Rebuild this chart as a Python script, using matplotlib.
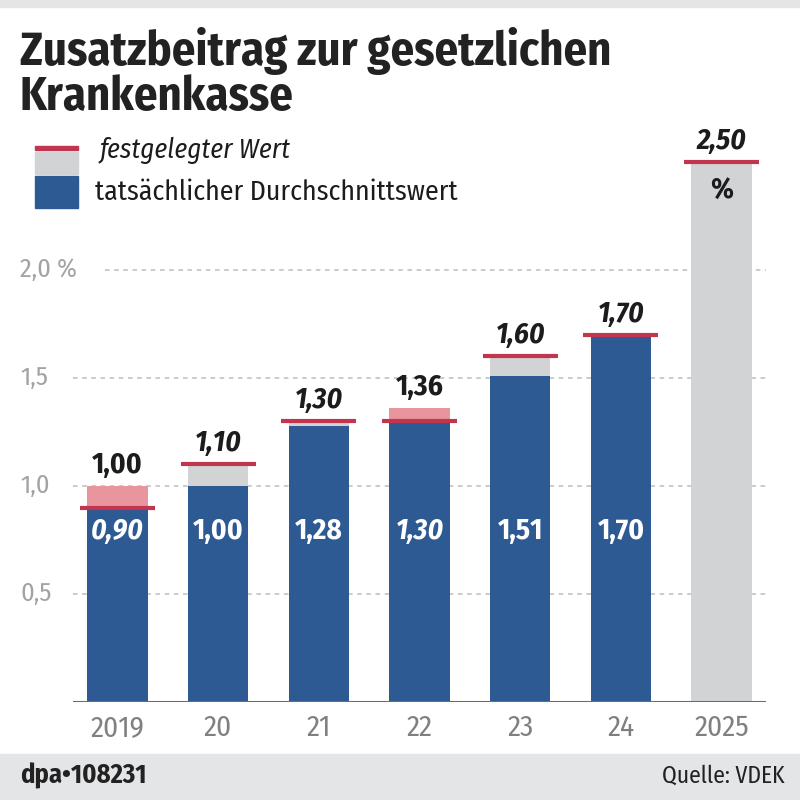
import matplotlib
matplotlib.use('Agg')
import matplotlib.pyplot as plt
from matplotlib import font_manager
from matplotlib.patches import Rectangle
from matplotlib.transforms import blended_transform_factory

# data
years = ['2019', '20', '21', '22', '23', '24', '2025']
fixed = [0.90, 1.10, 1.30, 1.30, 1.60, 1.70, 2.50]      # festgelegter Wert
actual = [1.00, 1.00, 1.28, 1.36, 1.51, 1.70, None]     # tatsaechlicher Durchschnittswert
yticks = [0.5, 1.0, 1.5, 2.0]
ytick_labels = ['0,5', '1,0', '1,5', '2,0 %']

BLUE = '#2e5a94'
GRAY = '#d2d3d5'
PINK = '#e8959d'
RED = '#c1354f'
DARK = '#1c1c1c'

names = set(f.name for f in font_manager.fontManager.ttflist)
family = 'Liberation Sans'
for want in ['Fira Sans Condensed', 'Asap Condensed', 'Barlow Semi Condensed']:
    if want in names:
        family = want
        break
plt.rcParams['font.family'] = [family, 'DejaVu Sans']


def fmt(v):
    return ('%.2f' % v).replace('.', ',')


fig = plt.figure(figsize=(8, 8), dpi=100)
fig.patch.set_facecolor('white')

# top strip and footer
fig.add_artist(Rectangle((0, 1 - 7 / 800), 1, 7 / 800, transform=fig.transFigure,
                         color='#e3e5e7', zorder=0))
fig.add_artist(Rectangle((0, 0), 1, 46 / 800, transform=fig.transFigure,
                         color='#e3e5e7', zorder=0))

ax = fig.add_axes([73 / 800, 98 / 800, 693 / 800, 0.702])
ax.set_xlim(-0.44, 6.44)
ax.set_ylim(0, 2.6)
for s in ax.spines.values():
    s.set_visible(False)
ax.set_xticks([])
ax.set_yticks([])

# grid
for t in yticks:
    xmin = 0.046 if t == 2.0 else 0.0
    ax.axhline(t, xmin=xmin, xmax=1, color='#bdbdbd', lw=1.1,
               linestyle=(0, (3, 3)), zorder=0)

trans = blended_transform_factory(fig.transFigure, ax.transData)
for t, lab in zip(yticks, ytick_labels):
    ax.text(20 / 800, t, lab, transform=trans, ha='left', va='center',
            fontsize=19, color='#a3a3a3')

w = 0.6
for i, (f, a) in enumerate(zip(fixed, actual)):
    if a is None:
        ax.bar(i, f, width=w, color=GRAY, zorder=2)
    else:
        low = min(f, a)
        ax.bar(i, low, width=w, color=BLUE, zorder=2)
        if f > a:
            ax.bar(i, f - a, bottom=a, width=w, color=GRAY, zorder=2)
        elif a > f:
            ax.bar(i, a - f, bottom=f, width=w, color=PINK, zorder=2)
    ax.hlines(f, i - 0.372, i + 0.372, color=RED, lw=3.0, zorder=3)

    top = f if a is None else max(f, a)
    if a is None or f >= a:
        ax.text(i, top + 0.03, fmt(f), ha='center', va='bottom', fontsize=21,
                fontweight='bold', style='italic', color=DARK, zorder=4)
    else:
        ax.text(i, top + 0.03, fmt(a), ha='center', va='bottom', fontsize=21,
                fontweight='bold', color=DARK, zorder=4)

    if a is None:
        ax.text(i, f - 0.13, '%', ha='center', va='center', fontsize=21,
                fontweight='bold', color=DARK, zorder=4)
    elif f >= a:
        ax.text(i, 0.79, fmt(a), ha='center', va='center', fontsize=21,
                fontweight='bold', color='white', zorder=4)
    else:
        ax.text(i, 0.79, fmt(f), ha='center', va='center', fontsize=21,
                fontweight='bold', style='italic', color='white', zorder=4)

    ax.text(i, -0.12, years[i], ha='center', va='center', fontsize=21,
            color='#808080')

ax.axhline(0, color='#6b6b6b', lw=2.2, zorder=5)

# title
fig.text(20 / 800, 1 - 52 / 800, 'Zusatzbeitrag zur gesetzlichen', fontsize=33.5,
         fontweight='bold', color='#222222', va='center')
fig.text(20 / 800, 1 - 98 / 800, 'Krankenkasse', fontsize=33.5,
         fontweight='bold', color='#222222', va='center')

# legend
fig.add_artist(Rectangle((35 / 800, 1 - 174 / 800), 43 / 800, 22 / 800,
                         transform=fig.transFigure, color=GRAY))
fig.add_artist(Rectangle((35 / 800, 1 - 150 / 800), 43 / 800, 4 / 800,
                         transform=fig.transFigure, color=RED))
fig.add_artist(Rectangle((35 / 800, 1 - 208 / 800), 43 / 800, 32 / 800,
                         transform=fig.transFigure, color=BLUE))
fig.text(100 / 800, 1 - 150 / 800, 'festgelegter Wert', fontsize=19.5,
         style='italic', color=DARK, va='center')
fig.text(95 / 800, 1 - 192 / 800, 'tatsächlicher Durchschnittswert', fontsize=20,
         color=DARK, va='center')

# footer
fig.text(20 / 800, 1 - 776 / 800, 'dpa•108231', fontsize=19, fontweight='bold',
         color='#222222', va='center')
fig.text(785 / 800, 1 - 776 / 800, 'Quelle: VDEK', fontsize=17,
         color='#222222', va='center', ha='right')

fig.savefig('out.png', dpi=100)
